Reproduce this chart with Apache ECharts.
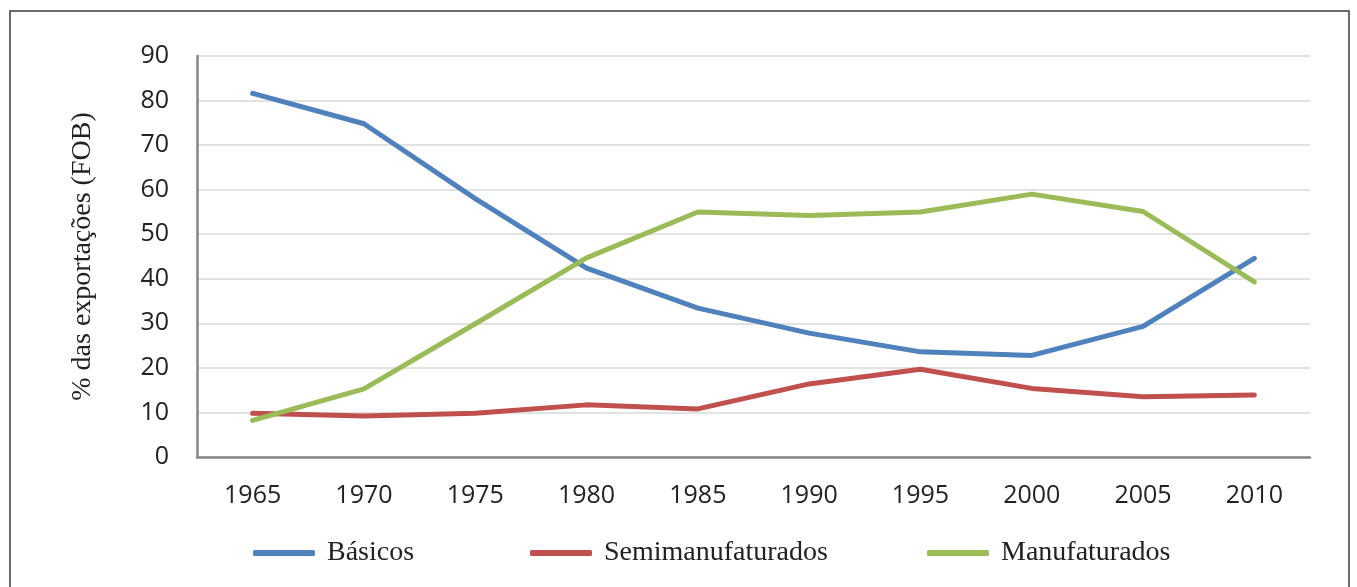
<!DOCTYPE html>
<html>
<head>
<meta charset="utf-8">
<script src="https://cdn.jsdelivr.net/npm/echarts@6/dist/echarts.min.js"></script>
<style>
	html, body { margin: 0; padding: 0; background: #fff; }
	#chart { width: 1357px; height: 587px; }
</style>
</head>
<body>
<div id="chart"></div>
<script>
const years = ['1965', '1970', '1975', '1980', '1985', '1990', '1995', '2000', '2005', '2010'];
const basicos = [81.6, 74.8, 58.0, 42.4, 33.4, 27.8, 23.6, 22.8, 29.3, 44.6];
const semimanufaturados = [9.8, 9.2, 9.8, 11.7, 10.8, 16.4, 19.7, 15.4, 13.5, 13.9];
const manufaturados = [8.2, 15.3, 29.9, 44.7, 55.0, 54.2, 55.0, 59.0, 55.1, 39.3];
const seriesNames = ['Básicos', 'Semimanufaturados', 'Manufaturados'];

const chart = echarts.init(document.getElementById('chart'));

/* 单条折线 */
const makeLine = (name, data, color) => ({
	type: 'line',
	name,
	data,
	showSymbol: false,
	symbol: 'none',
	lineStyle: { width: 5, color, cap: 'round', join: 'round' },
	itemStyle: { color },
	emphasis: { disabled: true }
});

/* 图例：每项单独定位 */
const makeLegend = (name, left) => ({
	left,
	top: 531,
	itemWidth: 62,
	itemHeight: 6,
	icon: 'roundRect',
	textStyle: {
		fontFamily: 'Liberation Serif',
		fontSize: 28,
		lineHeight: 34,
		color: '#222',
		padding: [0, 0, 0, 7]
	},
	data: [name]
});

chart.setOption({
	animation: false,
	backgroundColor: '#fff',
	graphic: [{
		type: 'rect',
		shape: { x: 10, y: 11, width: 1339, height: 590 },
		style: { fill: 'none', stroke: '#3a3a3a', lineWidth: 1.5 },
		silent: true
	}],
	grid: {
		left: 197,
		right: 47,
		top: 56,
		bottom: 130
	},
	legend: [
		makeLegend(seriesNames[0], 248),
		makeLegend(seriesNames[1], 525),
		makeLegend(seriesNames[2], 922)
	],
	xAxis: {
		type: 'category',
		data: years,
		boundaryGap: true,
		axisLine: { lineStyle: { color: '#868686', width: 2.5 } },
		axisTick: { show: false },
		axisLabel: {
			margin: 26,
			fontFamily: 'Open Sans',
			fontSize: 25,
			color: '#222'
		}
	},
	yAxis: {
		type: 'value',
		min: 0,
		max: 90,
		interval: 10,
		name: '% das exportações (FOB)',
		nameLocation: 'middle',
		nameGap: 100,
		nameTextStyle: {
			fontFamily: 'Liberation Serif',
			fontSize: 28,
			color: '#222'
		},
		axisLine: { show: true, lineStyle: { color: '#868686', width: 2.5 } },
		axisTick: { show: false },
		axisLabel: {
			margin: 28,
			fontFamily: 'Open Sans',
			fontSize: 25,
			color: '#222'
		},
		splitLine: { lineStyle: { color: '#d9d9d9', width: 1.5 } }
	},
	series: [
		makeLine(seriesNames[0], basicos, '#4f81bd'),
		makeLine(seriesNames[1], semimanufaturados, '#c0504d'),
		makeLine(seriesNames[2], manufaturados, '#9bbb59')
	]
});
</script>
</body>
</html>
